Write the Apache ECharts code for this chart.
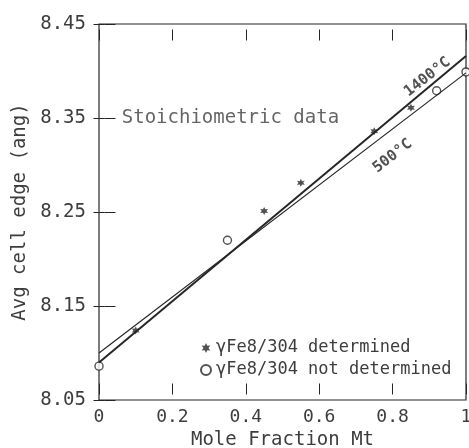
<!DOCTYPE html>
<html>
<head>
<meta charset="utf-8">
<script src="https://cdn.jsdelivr.net/npm/echarts@6/dist/echarts.min.js"></script>
<style>html,body{margin:0;padding:0;background:#fff;}#c{width:469px;height:448px;}</style>
</head>
<body>
<div id="c"></div>
<script>
// ---- data ----
const xTicks = [0, 0.2, 0.4, 0.6, 0.8, 1];
const yTicks = [8.05, 8.15, 8.25, 8.35, 8.45];
const lineX = [0, 1];
const line1400Y = [8.090, 8.416];
const line500Y = [8.100, 8.398];
const starX = [0.10, 0.45, 0.55, 0.75, 0.85];
const starY = [8.124, 8.251, 8.281, 8.336, 8.361];
const circX = [0.00, 0.35, 0.92, 1.00];
const circY = [8.086, 8.220, 8.379, 8.399];
const seriesNames = ['γFe8/304 determined', 'γFe8/304 not determined'];
const lineLabels = ['1400°C', '500°C'];
const lineLabelX = [0.895, 0.800];
const lineLabelY = [8.3935, 8.3095];
const noteText = 'Stoichiometric data';
const noteX = [0.062];
const noteY = [8.35];
const xName = 'Mole Fraction Mt';
const yName = 'Avg cell edge (ang)';

const FONT = 'DejaVu Sans Mono';
const TXT = '#3d3d3d';
const INK = '#262626';
const TL = 11;          // tick length (drawn centred on the axis position)
const OFF = -TL / 2;    // shift axes inward so ticks sit inside the frame
const starPath = 'path://M0,-10 L2.5,-4.33 L8.66,-5 L5,0 L8.66,5 L2.5,4.33 L0,10 L-2.5,4.33 L-8.66,5 L-5,0 L-8.66,-5 L-2.5,-4.33 Z';

const zip = (xs, ys) => xs.map((x, i) => [x, ys[i]]);
const tick = () => ({show: true, inside: true, length: TL, lineStyle: {color: INK, width: 1}});

const chart = echarts.init(document.getElementById('c'), null, {renderer: 'canvas'});
chart.setOption({
  animation: false,
  backgroundColor: '#fff',
  grid: {left: 99, right: 3, top: 24, bottom: 48, containLabel: false, outerBoundsMode: 'none',
    show: true, borderColor: INK, borderWidth: 1.2, backgroundColor: 'transparent'},
  xAxis: [{
    type: 'value', min: xTicks[0], max: xTicks[xTicks.length - 1], interval: 0.2, position: 'bottom', offset: OFF,
    axisLine: {show: false}, axisTick: tick(), splitLine: {show: false},
    axisLabel: {color: TXT, fontFamily: FONT, fontSize: 18, margin: 8 - OFF,
      formatter: v => (Math.abs(v) < 1e-9 ? '0' : Math.abs(v - 1) < 1e-9 ? '1' : v.toFixed(1))},
    name: xName, nameLocation: 'middle', nameGap: 31 - OFF,
    nameTextStyle: {color: TXT, fontFamily: FONT, fontSize: 19}
  }, {
    type: 'value', min: xTicks[0], max: xTicks[xTicks.length - 1], interval: 0.2, position: 'top', offset: OFF,
    axisLine: {show: false}, axisTick: tick(), splitLine: {show: false}, axisLabel: {show: false}
  }],
  yAxis: [{
    type: 'value', min: yTicks[0], max: yTicks[yTicks.length - 1], interval: 0.1, position: 'left', offset: OFF,
    axisLine: {show: false}, axisTick: tick(), splitLine: {show: false},
    axisLabel: {color: TXT, fontFamily: FONT, fontSize: 19, margin: 13 - OFF, formatter: v => v.toFixed(2)},
    name: yName, nameLocation: 'middle', nameGap: 62 - OFF, nameRotate: 90,
    nameTextStyle: {color: TXT, fontFamily: FONT, fontSize: 19}
  }, {
    type: 'value', min: yTicks[0], max: yTicks[yTicks.length - 1], interval: 0.1, position: 'right', offset: OFF,
    axisLine: {show: false}, axisTick: tick(), splitLine: {show: false}, axisLabel: {show: false}
  }],
  legend: {
    orient: 'vertical', left: 195, top: 333, itemGap: 2, itemWidth: 10, itemHeight: 10,
    textStyle: {color: TXT, fontFamily: FONT, fontSize: 17, lineHeight: 20},
    data: [{name: seriesNames[0]}, {name: seriesNames[1]}]
  },
  series: [
    {type: 'line', name: '1400', data: zip(lineX, line1400Y), symbol: 'none', lineStyle: {color: INK, width: 2}, silent: true},
    {type: 'line', name: '500', data: zip(lineX, line500Y), symbol: 'none', lineStyle: {color: INK, width: 1.2}, silent: true},
    {type: 'scatter', name: seriesNames[0], data: zip(starX, starY), symbol: starPath, symbolSize: 8, clip: false,
      itemStyle: {color: INK}},
    {type: 'scatter', name: seriesNames[1], data: zip(circX, circY), symbol: 'circle', symbolSize: 8, clip: false,
      itemStyle: {color: '#fff', borderColor: INK, borderWidth: 1.4}},
    {type: 'scatter', name: 'lineLabels', data: zip(lineLabelX, lineLabelY).map((p, i) => ({
        value: p,
        label: {show: true, position: 'inside', formatter: lineLabels[i], rotate: 38,
          color: INK, fontFamily: FONT, fontSize: 15, fontWeight: 'bold'}
      })), symbolSize: 0, silent: true},
    {type: 'scatter', name: 'note', data: zip(noteX, noteY), symbolSize: 0, silent: true,
      label: {show: true, position: 'right', distance: 0, formatter: noteText,
        color: TXT, fontFamily: FONT, fontSize: 19, backgroundColor: '#fff'}}
  ]
});
</script>
</body>
</html>
